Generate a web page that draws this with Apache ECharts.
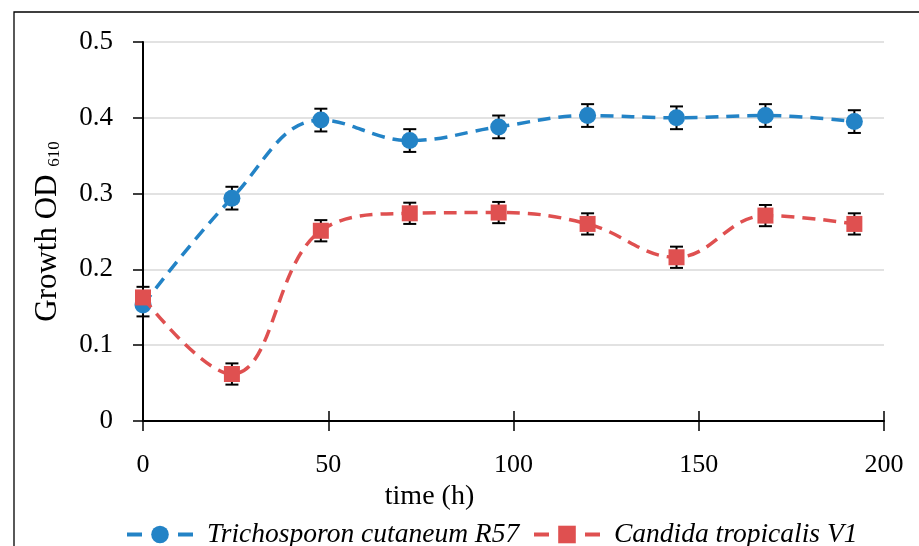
<!DOCTYPE html>
<html>
<head>
<meta charset="utf-8">
<script src="https://cdn.jsdelivr.net/npm/echarts@6/dist/echarts.min.js"></script>
<style>
html,body{margin:0;padding:0;background:#fff;}
#chart{width:919px;height:546px;}
</style>
</head>
<body>
<div id="chart"></div>
<script>
const timeHours = [0, 24, 48, 72, 96, 120, 144, 168, 192];
const trichoValues = [0.153, 0.294, 0.397, 0.370, 0.388, 0.403, 0.400, 0.403, 0.395];
const trichoErrors = [0.015, 0.015, 0.015, 0.015, 0.015, 0.015, 0.015, 0.015, 0.015];
const candidaValues = [0.163, 0.062, 0.251, 0.274, 0.275, 0.260, 0.216, 0.271, 0.260];
const candidaErrors = [0.014, 0.014, 0.014, 0.014, 0.014, 0.014, 0.014, 0.014, 0.014];
const seriesNames = ['Trichosporon cutaneum R57', 'Candida tropicalis V1'];
const xTicks = [0, 50, 100, 150, 200];
const yTicks = [0, 0.1, 0.2, 0.3, 0.4, 0.5];

const BLUE = '#2383C6';
const RED = '#DF5050';
const FONT = '"Liberation Serif", "DejaVu Serif", serif';

function pairs(xs, ys) { return xs.map((x, i) => [x, ys[i]]); }
function errData(xs, ys, es) { return xs.map((x, i) => [x, ys[i] - es[i], ys[i] + es[i]]); }

function renderErr(params, api) {
  const x = api.value(0);
  const lo = api.coord([x, api.value(1)]);
  const hi = api.coord([x, api.value(2)]);
  const hw = 6.5;
  const style = { stroke: '#000', lineWidth: 2 };
  return {
    type: 'group',
    children: [
      { type: 'line', shape: { x1: lo[0], y1: lo[1], x2: hi[0], y2: hi[1] }, style },
      { type: 'line', shape: { x1: lo[0] - hw, y1: lo[1], x2: lo[0] + hw, y2: lo[1] }, style },
      { type: 'line', shape: { x1: hi[0] - hw, y1: hi[1], x2: hi[0] + hw, y2: hi[1] }, style }
    ]
  };
}

const legendCommon = {
  top: 516, itemWidth: 66, itemHeight: 22,
  lineStyle: { width: 4, type: [15, 36] },
  textStyle: { fontFamily: FONT, fontStyle: 'italic', fontSize: 27.5, color: '#000', padding: [0, 0, 0, 9] }
};

const chart = echarts.init(document.getElementById('chart'), null, { renderer: 'canvas' });
const option = {
  animation: false,
  backgroundColor: '#fff',
  graphic: [{
    type: 'rect', x: 0, y: 0, z: -10,
    shape: { x: 14, y: 12, width: 1000, height: 1000 },
    style: { fill: 'none', stroke: '#000', lineWidth: 1.3 }
  }],
  grid: { left: 143, right: 35, top: 42, bottom: 125 },
  legend: [
    Object.assign({ data: [seriesNames[0]], left: 120 }, legendCommon),
    Object.assign({ data: [seriesNames[1]], left: 527 }, legendCommon)
  ],
  xAxis: [{
    type: 'value', min: xTicks[0], max: xTicks[xTicks.length - 1], interval: 50,
    name: 'time (h)', nameLocation: 'middle', nameGap: 56,
    nameTextStyle: { fontFamily: FONT, fontSize: 28, color: '#000', padding: [0, 168, 0, 0] },
    axisLine: { lineStyle: { color: '#000', width: 2 } },
    axisTick: { show: true, length: 10, lineStyle: { color: '#000', width: 1.5 } },
    axisLabel: { margin: 31, fontFamily: FONT, fontSize: 26, color: '#000' },
    splitLine: { show: false }
  }, {
    type: 'value', min: xTicks[0], max: xTicks[xTicks.length - 1], interval: 50, position: 'bottom',
    axisLine: { show: false },
    axisTick: { show: true, inside: true, length: 10, lineStyle: { color: '#000', width: 1.5 } },
    axisLabel: { show: false },
    splitLine: { show: false }
  }],
  yAxis: {
    type: 'value', min: yTicks[0], max: yTicks[yTicks.length - 1], interval: 0.1,
    name: '{a|Growth OD }{b|610}', nameLocation: 'middle', nameGap: 80, nameRotate: 90,
    nameTextStyle: {
      color: '#000',
      rich: {
        a: { fontFamily: FONT, fontSize: 31, color: '#000' },
        b: { fontFamily: FONT, fontSize: 17, color: '#000', verticalAlign: 'bottom', padding: [12, 0, 0, 0] }
      }
    },
    axisLine: { show: true, lineStyle: { color: '#000', width: 2 } },
    axisTick: { show: true, length: 10, lineStyle: { color: '#000', width: 1.5 } },
    axisLabel: { margin: 30, fontFamily: FONT, fontSize: 27, color: '#000',
      formatter: v => v === 0 ? '0' : v.toFixed(1) },
    splitLine: { show: true, lineStyle: { color: '#d9d9d9', width: 1.5 } }
  },
  series: [{
    type: 'custom', name: 'errT', renderItem: renderErr, z: 1,
    data: errData(timeHours, trichoValues, trichoErrors), silent: true
  }, {
    type: 'custom', name: 'errC', renderItem: renderErr, z: 1,
    data: errData(timeHours, candidaValues, candidaErrors), silent: true
  }, {
    type: 'line', name: seriesNames[0], data: pairs(timeHours, trichoValues), z: 2,
    smooth: 0.4, symbol: 'circle', symbolSize: 17,
    itemStyle: { color: BLUE },
    lineStyle: { color: BLUE, width: 3.5, type: [13, 8] }
  }, {
    type: 'line', name: seriesNames[1], data: pairs(timeHours, candidaValues), z: 3,
    smooth: 0.4, symbol: 'rect', symbolSize: 16,
    itemStyle: { color: RED },
    lineStyle: { color: RED, width: 3.5, type: [13, 8] }
  }]
};
chart.setOption(option);
</script>
</body>
</html>
